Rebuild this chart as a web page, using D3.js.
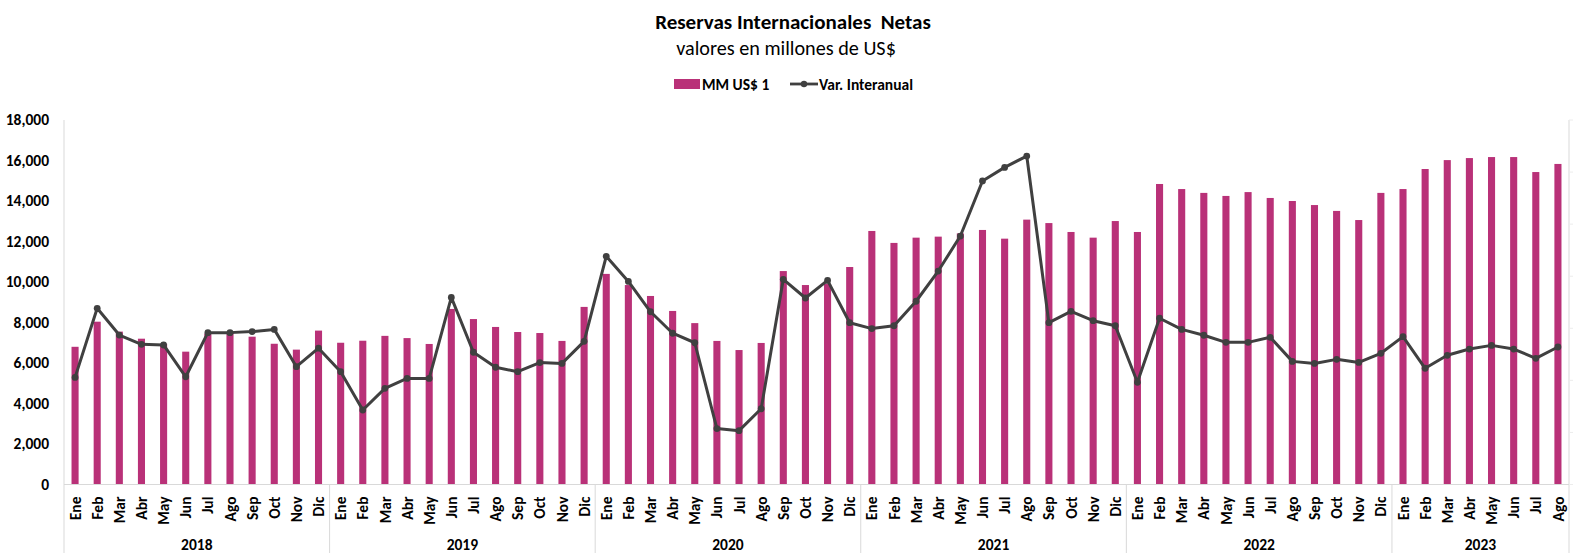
<!DOCTYPE html>
<html><head><meta charset="utf-8">
<script src="https://cdn.jsdelivr.net/npm/d3@7"></script>
<style>
body{margin:0;background:#fff;}
text{font-family:Carlito,Lato,"Open Sans",sans-serif;}
</style></head><body>
<svg id="chart" width="1589" height="556"></svg>
<script>
const years = ["2018","2019","2020","2021","2022","2023"];
const monthNames = ["Ene","Feb","Mar","Abr","May","Jun","Jul","Ago","Sep","Oct","Nov","Dic"];
const monthsPerYear = [12,12,12,12,12,8];
const reservas = [
  6800,8040,7550,7200,6950,6560,7450,7500,7300,6950,6660,7600,
  7000,7100,7340,7230,6940,8670,8170,7780,7530,7480,7090,8770,
  10400,9850,9310,8570,7970,7090,6640,6990,10540,9850,9900,10740,
  12520,11930,12190,12240,12400,12570,12140,13080,12910,12470,12190,13010,
  12470,14840,14590,14400,14250,14440,14150,14000,13800,13510,13060,14400,
  14590,15580,16020,16120,16170,16170,15430,15830
];
const varInteranual = [
  5290,8700,7380,6920,6890,5320,7500,7500,7550,7660,5820,6730,
  5570,3680,4750,5240,5240,9240,6530,5790,5570,6020,5980,7070,
  11270,10030,8530,7470,7000,2760,2660,3740,10130,9210,10080,7990,
  7700,7840,9050,10540,12270,14990,15660,16220,7990,8550,8090,7840,
  5050,8210,7660,7370,7020,7020,7270,6080,5980,6180,6030,6480,
  7300,5740,6380,6690,6870,6690,6230,6790
];
const yTicks = [0,2000,4000,6000,8000,10000,12000,14000,16000,18000];

(function(){
const categories = [];
years.forEach((y,i)=>{ for(let m=0;m<monthsPerYear[i];m++) categories.push({year:y, month:monthNames[m], key:y+"-"+m}); });

const svg = d3.select("#chart");
const pL=64, pR=1569, pT=120, pB=484.5;
const barColor="#B93178", lineColor="#404040", axisColor="#d9d9d9";
const ff="Carlito,Lato,sans-serif";

const x = d3.scaleBand().domain(categories.map(d=>d.key)).range([pL,pR]).paddingInner(0.68).paddingOuter(0.34);
const y = d3.scaleLinear().domain([0,18000]).range([pB,pT]);
const cx = k => x(k)+x.bandwidth()/2;

// title
svg.append("text").attr("x",793).attr("y",29).attr("text-anchor","middle").attr("font-size",21).attr("font-weight","bold").text("Reservas Internacionales\u00a0 Netas");
svg.append("text").attr("x",786).attr("y",55).attr("text-anchor","middle").attr("font-size",20.2).text("valores en millones de US$");

// legend
const lg = svg.append("g");
lg.append("rect").attr("x",674).attr("y",79).attr("width",26).attr("height",10).attr("fill",barColor);
lg.append("text").attr("x",702).attr("y",89.5).attr("font-size",15.5).attr("font-weight","bold").text("MM US$ 1");
lg.append("line").attr("x1",790).attr("x2",818).attr("y1",84).attr("y2",84).attr("stroke",lineColor).attr("stroke-width",2.8);
lg.append("circle").attr("cx",804).attr("cy",84).attr("r",3.2).attr("fill",lineColor);
lg.append("text").attr("x",819).attr("y",89.5).attr("font-size",15.5).attr("font-weight","bold").text("Var. Interanual");

// y axis
const yAxis = d3.axisLeft(y).tickValues(yTicks).tickSize(0).tickPadding(15).tickFormat(d3.format(","));
const ya = svg.append("g").attr("transform",`translate(${pL},0)`).call(yAxis);
ya.select(".domain").remove();
ya.selectAll("text").attr("font-size",15.5).attr("font-weight","bold").attr("fill","#000").attr("font-family",ff);

// axis lines
svg.append("line").attr("x1",pL).attr("x2",pL).attr("y1",pT).attr("y2",553).attr("stroke",axisColor);
svg.append("line").attr("x1",pR).attr("x2",pR).attr("y1",pT).attr("y2",553).attr("stroke",axisColor);
const y2 = d3.scaleLinear().domain([0,7]).range([pB,pT]);
d3.range(0,8).forEach(i=>{
  svg.append("line").attr("x1",pR).attr("x2",pR+4).attr("y1",y2(i)).attr("y2",y2(i)).attr("stroke","#ececec");
});

// bars
svg.append("g").selectAll("rect").data(categories).join("rect")
  .attr("x",d=>x(d.key)).attr("width",x.bandwidth())
  .attr("y",(d,i)=>y(reservas[i])).attr("height",(d,i)=>y(0)-y(reservas[i]))
  .attr("fill",barColor);

svg.append("line").attr("x1",pL).attr("x2",pR).attr("y1",pB).attr("y2",pB).attr("stroke",axisColor);

// line
const line = d3.line().x((d,i)=>cx(categories[i].key)).y(d=>y(d));
svg.append("path").datum(varInteranual).attr("d",line).attr("fill","none").attr("stroke",lineColor).attr("stroke-width",3).attr("stroke-linejoin","round");
svg.append("g").selectAll("circle").data(varInteranual).join("circle")
  .attr("cx",(d,i)=>cx(categories[i].key)).attr("cy",d=>y(d)).attr("r",3.4).attr("fill",lineColor);

// month labels
const xAxis = d3.axisBottom(x).tickSize(0).tickPadding(0).tickFormat(k=>categories.find(c=>c.key===k).month);
const xa = svg.append("g").attr("transform",`translate(0,${pB})`).call(xAxis);
xa.select(".domain").remove();
xa.selectAll("text").attr("transform","rotate(-90)").attr("text-anchor","end").attr("dy","0.36em")
  .attr("x",-12).attr("y",0).attr("font-size",15.5).attr("font-weight","bold").attr("fill","#000").attr("font-family",ff);

// year groups
let idx=0;
years.forEach((yr,i)=>{
  const first = categories[idx].key, last = categories[idx+monthsPerYear[i]-1].key;
  const startX = i===0? pL : (cx(categories[idx-1].key)+cx(first))/2;
  const endX = i===years.length-1? pR : (cx(last)+cx(categories[idx+monthsPerYear[i]].key))/2;
  if(i>0) svg.append("line").attr("x1",startX).attr("x2",startX).attr("y1",pB).attr("y2",553).attr("stroke",axisColor);
  svg.append("text").attr("x",(startX+endX)/2).attr("y",550).attr("text-anchor","middle").attr("font-size",15.5).attr("font-weight","bold").text(yr);
  idx += monthsPerYear[i];
});
})();
</script></body></html>
